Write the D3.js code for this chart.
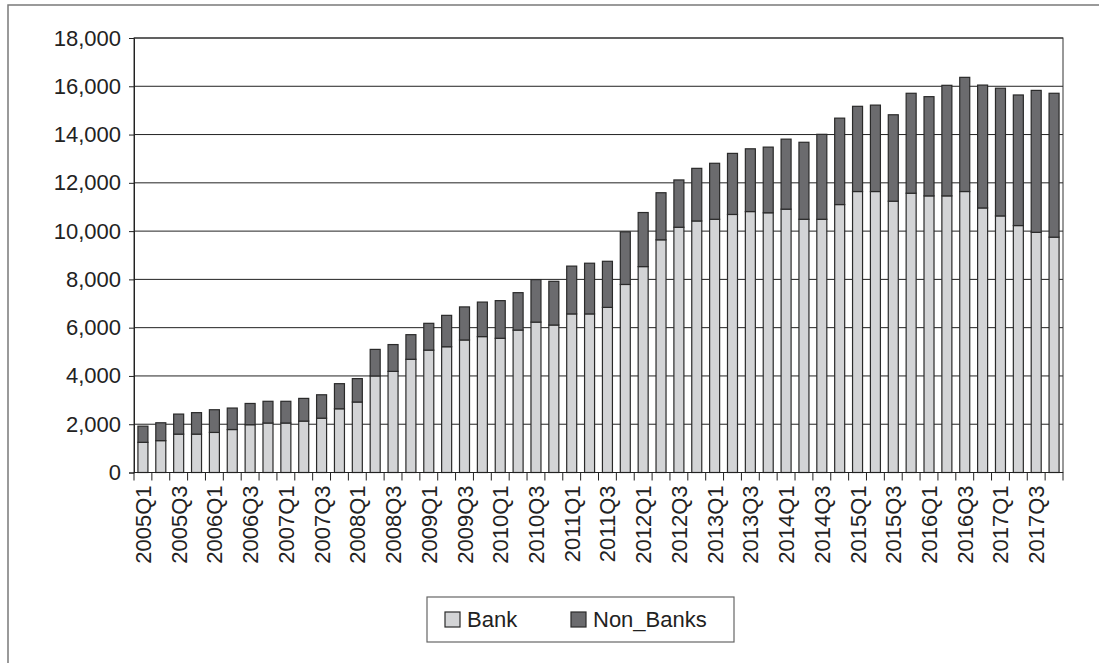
<!DOCTYPE html>
<html>
<head>
<meta charset="utf-8">
<script src="https://cdn.jsdelivr.net/npm/d3@7"></script>
<style>
  body { margin: 0; background: #fff; }
  text { font-family: "Liberation Sans", Arial, sans-serif; fill: #222; }
</style>
</head>
<body>
<svg id="chart" width="1099" height="663"></svg>
<script>
// Quarters 2005Q1 .. 2017Q4
const years = d3.range(2005, 2018);
const quarters = years.flatMap(y => [1, 2, 3, 4].map(q => `${y}Q${q}`));

// Values
const bank = [1250, 1320, 1590, 1590, 1660, 1780, 1980, 2050, 2050, 2130, 2250, 2640, 2920,
  4000, 4190, 4690, 5070, 5210, 5490, 5630, 5560, 5900, 6230, 6110, 6570, 6570,
  6840, 7790, 8530, 9640, 10160, 10420, 10490, 10690, 10810, 10760, 10910, 10490, 10490,
  11100, 11640, 11640, 11240, 11570, 11460, 11460, 11640, 10960, 10630, 10230, 9950, 9750];
const nonBanks = [670, 740, 830, 890, 940, 890, 880, 900, 900, 940, 970, 1040, 970,
  1100, 1110, 1020, 1110, 1300, 1370, 1430, 1560, 1550, 1760, 1810, 1980, 2100,
  1910, 2180, 2240, 1950, 1960, 2180, 2320, 2530, 2600, 2720, 2900, 3190, 3520,
  3580, 3530, 3580, 3580, 4140, 4110, 4580, 4730, 5090, 5290, 5410, 5880, 5960];
const yTicks = d3.range(0, 18001, 2000);
const seriesNames = ["Bank", "Non_Banks"];
const colors = {Bank: "#d3d4d6", Non_Banks: "#6b6b6e"};

const plot = {left: 134, right: 1063, top: 38, bottom: 472.5};
const fontSize = "22px";

const svg = d3.select("#chart");

// outer frame (runs off the right/bottom edge)
svg.append("rect")
  .attr("x", 8).attr("y", 5)
  .attr("width", 1200).attr("height", 800)
  .attr("fill", "none")
  .attr("stroke", "#7a7a7a")
  .attr("stroke-width", 1.5);

const x = d3.scaleBand()
  .domain(quarters)
  .range([plot.left, plot.right])
  .paddingInner(0.44)
  .paddingOuter(0.22);

const y = d3.scaleLinear()
  .domain([0, 18000])
  .range([plot.bottom, plot.top]);

// gridlines
svg.append("g")
  .selectAll("line")
  .data(yTicks)
  .join("line")
  .attr("x1", plot.left).attr("x2", plot.right)
  .attr("y1", d => y(d)).attr("y2", d => y(d))
  .attr("stroke", "#222")
  .attr("stroke-width", 1);

// plot frame
svg.append("rect")
  .attr("x", plot.left).attr("y", plot.top)
  .attr("width", plot.right - plot.left)
  .attr("height", plot.bottom - plot.top)
  .attr("fill", "none")
  .attr("stroke", "#333")
  .attr("stroke-width", 1);

// stacked bars
const table = quarters.map((q, i) => ({q: q, Bank: bank[i], Non_Banks: nonBanks[i]}));
const stacked = d3.stack().keys(seriesNames)(table);

svg.append("g")
  .selectAll("g")
  .data(stacked)
  .join("g")
  .attr("fill", d => colors[d.key])
  .selectAll("rect")
  .data(d => d)
  .join("rect")
  .attr("x", d => x(d.data.q))
  .attr("width", x.bandwidth())
  .attr("y", d => y(d[1]))
  .attr("height", d => y(d[0]) - y(d[1]))
  .attr("stroke", "#2a2a2a")
  .attr("stroke-width", 1.2);

// y axis
const yAxis = svg.append("g")
  .attr("transform", `translate(${plot.left},0)`)
  .call(d3.axisLeft(y).tickValues(yTicks).tickSize(5).tickPadding(8)
    .tickFormat(d3.format(",")));
yAxis.select(".domain").attr("stroke", "#222");
yAxis.selectAll(".tick line").attr("stroke", "#222");
yAxis.selectAll("text")
  .attr("font-size", fontSize)
  .attr("font-family", "Liberation Sans, Arial, sans-serif")
  .attr("fill", "#222");

// x axis: ticks between categories
const step = x.step();
const xg = svg.append("g");
xg.append("line")
  .attr("x1", plot.left).attr("x2", plot.right)
  .attr("y1", plot.bottom).attr("y2", plot.bottom)
  .attr("stroke", "#222");
xg.selectAll(".xtick")
  .data(d3.range(quarters.length + 1))
  .join("line")
  .attr("class", "xtick")
  .attr("x1", i => plot.left + i * step)
  .attr("x2", i => plot.left + i * step)
  .attr("y1", plot.bottom)
  .attr("y2", plot.bottom + 8)
  .attr("stroke", "#222");

xg.selectAll(".xlabel")
  .data(quarters.filter((q, i) => i % 2 === 0))
  .join("text")
  .attr("class", "xlabel")
  .attr("transform", d => `translate(${x(d) + x.bandwidth() / 2 + 8},${plot.bottom + 13}) rotate(-90)`)
  .attr("text-anchor", "end")
  .attr("font-size", fontSize)
  .text(d => d);

// legend
const legend = svg.append("g");
legend.append("rect")
  .attr("x", 427).attr("y", 597)
  .attr("width", 307).attr("height", 45)
  .attr("fill", "#fff")
  .attr("stroke", "#666")
  .attr("stroke-width", 1.2);

const legendX = {Bank: 445, Non_Banks: 571};
seriesNames.forEach(name => {
  legend.append("rect")
    .attr("x", legendX[name]).attr("y", 612)
    .attr("width", 15).attr("height", 15)
    .attr("fill", colors[name])
    .attr("stroke", "#2a2a2a")
    .attr("stroke-width", 1.2);
  legend.append("text")
    .attr("x", legendX[name] + 22)
    .attr("y", 627)
    .attr("font-size", fontSize)
    .text(name);
});
</script>
</body>
</html>
